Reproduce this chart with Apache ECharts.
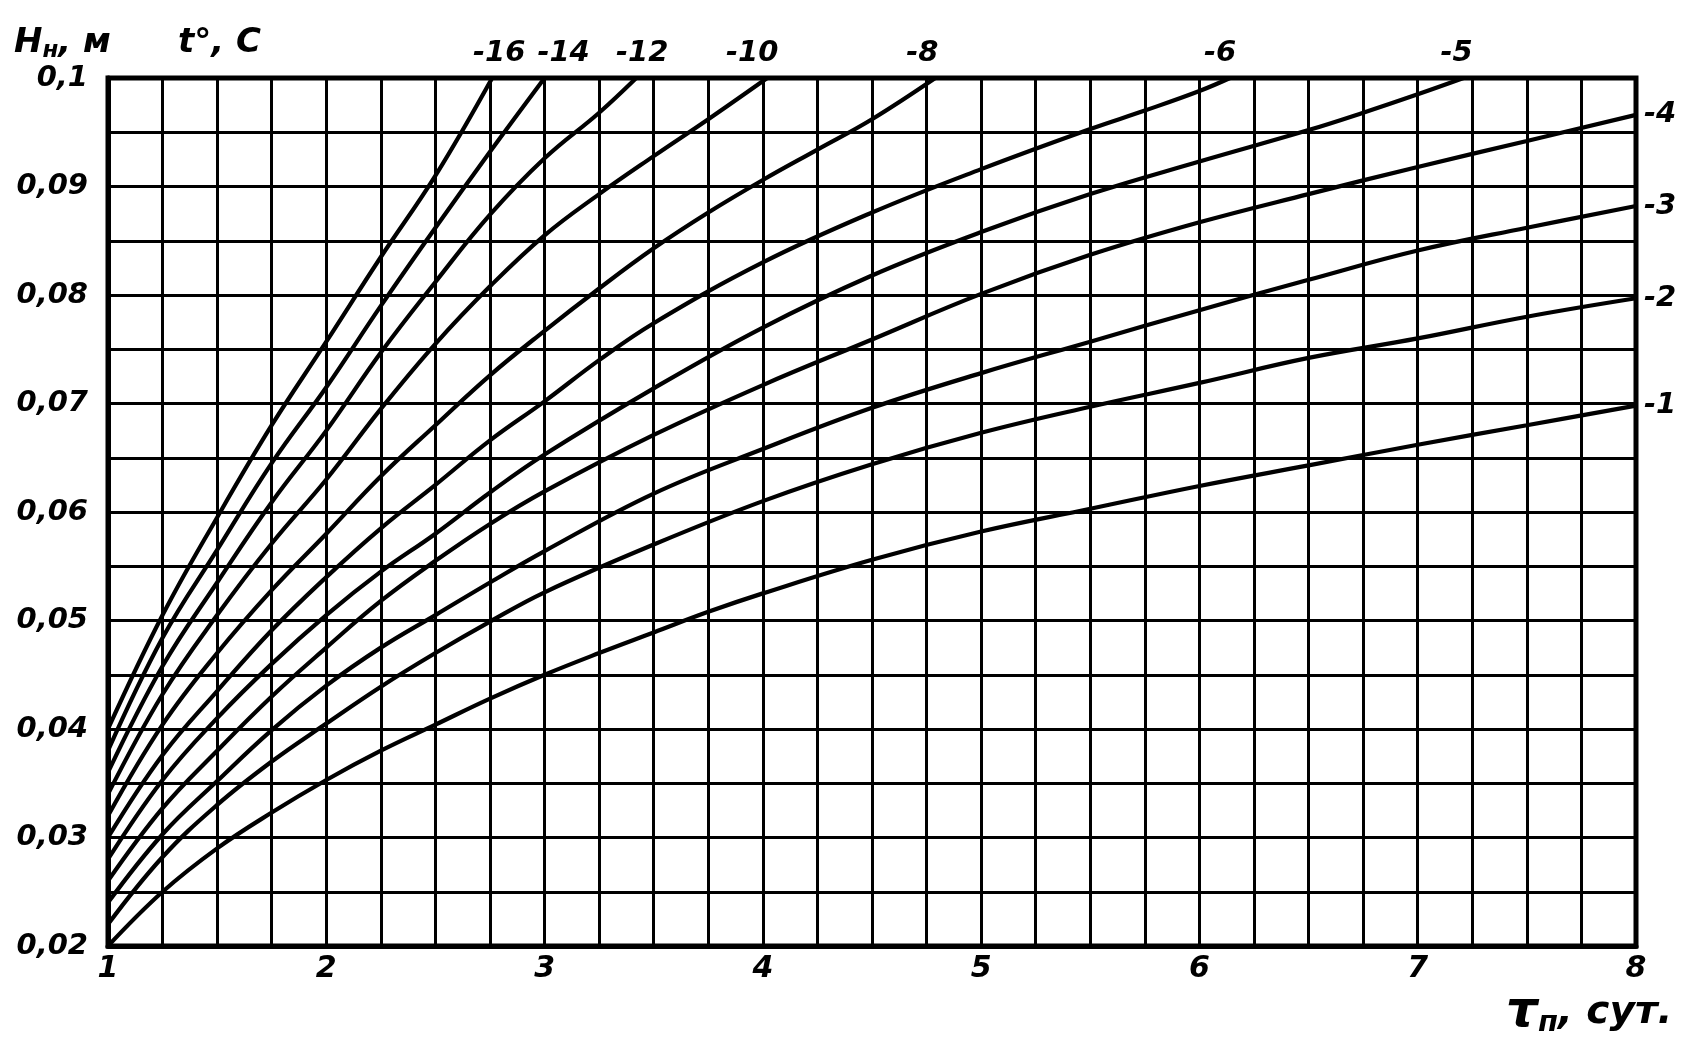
<!DOCTYPE html>
<html>
<head>
<meta charset="utf-8">
<script src="https://cdn.jsdelivr.net/npm/echarts@6/dist/echarts.min.js"></script>
<style>
html,body{margin:0;padding:0;background:#fff;}
#chart{width:1707px;height:1061px;}
</style>
</head>
<body>
<div id="chart"></div>
<script>
// Curve names (air temperature, °C)
const curveNames = ['-1', '-2', '-3', '-4', '-5', '-6', '-8', '-10', '-12', '-14', '-16'];

// Each curve: [tau (days), H (m)]
const curveM1 = [[1,0.020],[1.25,0.0250],[1.5,0.0290],[1.75,0.0323],[2,0.0353],[2.25,0.0380],[2.5,0.0404],[2.75,0.0428],[3,0.0450],[3.25,0.0470],[3.5,0.0489],[3.75,0.0508],[4,0.0525],[4.5,0.0556],[5,0.0582],[5.5,0.0603],[6,0.0624],[6.5,0.0643],[7,0.0662],[7.5,0.0680],[8,0.0698]];
const curveM2 = [[1,0.022],[1.25,0.0282],[1.5,0.033],[1.75,0.037],[2,0.0405],[2.25,0.0439],[2.5,0.047],[2.75,0.0499],[3,0.0526],[3.5,0.0570],[4,0.0610],[4.5,0.0644],[5,0.0673],[5.5,0.0697],[6,0.0719],[6.5,0.0742],[7,0.0760],[7.5,0.0780],[8,0.0797]];
const curveM3 = [[1,0.024],[1.25,0.0303],[1.5,0.0352],[1.75,0.0399],[2,0.044],[2.25,0.0475],[2.5,0.0505],[2.75,0.0535],[3,0.0564],[3.5,0.0617],[4,0.0658],[4.5,0.0696],[5,0.0728],[5.5,0.0757],[6,0.0786],[6.5,0.0814],[7,0.0841],[7.5,0.0862],[8,0.0882]];
const curveM4 = [[1,0.026],[1.25,0.0327],[1.5,0.038],[1.75,0.043],[2,0.0475],[2.25,0.0518],[2.5,0.0555],[2.75,0.0589],[3,0.0619],[3.5,0.0671],[4,0.0717],[4.5,0.0759],[5,0.0801],[5.5,0.0837],[6,0.0867],[6.5,0.0893],[7,0.0918],[7.5,0.0942],[8,0.0966]];
const curveM5 = [[1,0.028],[1.25,0.0353],[1.5,0.041],[1.75,0.046],[2,0.0505],[2.25,0.0545],[2.5,0.058],[2.75,0.0618],[3,0.0653],[3.5,0.0714],[4,0.0770],[4.5,0.0818],[5,0.0858],[5.5,0.0893],[6,0.0923],[6.5,0.0952],[6.75,0.0968],[7,0.0985],[7.21,0.1]];
const curveM6 = [[1,0.030],[1.25,0.0376],[1.5,0.0435],[1.75,0.0491],[2,0.054],[2.25,0.0585],[2.5,0.0625],[2.75,0.0666],[3,0.0702],[3.25,0.0740],[3.5,0.0774],[4,0.0830],[4.5,0.0876],[5,0.0916],[5.5,0.0953],[5.75,0.0970],[6,0.0988],[6.14,0.1]];
const curveM8 = [[1,0.032],[1.25,0.0404],[1.5,0.047],[1.75,0.0528],[2,0.058],[2.25,0.0633],[2.5,0.068],[2.75,0.0726],[3,0.0767],[3.25,0.0806],[3.5,0.0843],[3.75,0.0876],[4,0.0906],[4.25,0.0934],[4.5,0.0962],[4.79,0.1]];
const curveM10 = [[1,0.034],[1.25,0.0432],[1.5,0.0505],[1.75,0.0571],[2,0.063],[2.25,0.0695],[2.5,0.0755],[2.75,0.0808],[3,0.0855],[3.25,0.0893],[3.5,0.0928],[3.75,0.0962],[4.02,0.1]];
const curveM12 = [[1,0.036],[1.25,0.0458],[1.5,0.0535],[1.75,0.0609],[2,0.0675],[2.25,0.0747],[2.5,0.0812],[2.75,0.0874],[3,0.0926],[3.25,0.0968],[3.42,0.1]];
const curveM14 = [[1,0.038],[1.25,0.0484],[1.5,0.0565],[1.75,0.0645],[2,0.0715],[2.25,0.079],[2.5,0.0862],[2.75,0.0932],[3,0.1]];
const curveM16 = [[1,0.040],[1.25,0.0505],[1.5,0.0595],[1.75,0.068],[2,0.0757],[2.25,0.0835],[2.5,0.091],[2.76,0.1]];

const curves = [curveM1, curveM2, curveM3, curveM4, curveM5, curveM6, curveM8, curveM10, curveM12, curveM14, curveM16];

// Label nudges (px) for the curve-end labels, as printed
const labelNudge = [[0,0],[0,0],[0,0],[0,0],[-7,0],[-10,0],[-13,0],[-15,0],[6,0],[19,0],[7,0]];

// Tick labels
const xTickValues = [1, 2, 3, 4, 5, 6, 7, 8];
const xTickText = ['1', '2', '3', '4', '5', '6', '7', '8'];
const yTickValues = [0.02, 0.03, 0.04, 0.05, 0.06, 0.07, 0.08, 0.09, 0.1];
const yTickText = ['0,02', '0,03', '0,04', '0,05', '0,06', '0,07', '0,08', '0,09', '0,1'];

const FONT = '"DejaVu Sans", sans-serif';
const txt = { fontFamily: FONT, fontStyle: 'italic', fontWeight: 'bold', color: '#000' };

function findTick(v, vals, texts) {
  for (let i = 0; i < vals.length; i++) {
    if (Math.abs(v - vals[i]) < 1e-7) return texts[i];
  }
  return '';
}

const chart = echarts.init(document.getElementById('chart'), null, { renderer: 'canvas' });

const series = curves.map((pts, i) => {
  const last = pts[pts.length - 1];
  const endsOnTop = last[1] >= 0.1 - 1e-9;
  return {
    type: 'line',
    name: curveNames[i],
    data: pts.map((p, j) => j === pts.length - 1
      ? { value: p, label: { show: true, position: endsOnTop ? 'top' : 'right', distance: endsOnTop ? 10 : 8, offset: labelNudge[i], formatter: curveNames[i] } }
      : p),
    smooth: 0.4,
    showSymbol: true,
    showAllSymbol: true,
    symbol: 'circle',
    symbolSize: 0.01,
    itemStyle: { color: '#000' },
    lineStyle: { color: '#000', width: 4.2 },
    label: Object.assign({ show: false, fontSize: 29 }, txt),
    emphasis: { disabled: true },
    clip: false,
    silent: true,
    z: 5
  };
});

chart.setOption({
  animation: false,
  backgroundColor: '#fff',
  grid: {
    left: 108, right: 71, top: 78, bottom: 115,
    show: true, borderColor: '#000', borderWidth: 5, backgroundColor: 'transparent'
  },
  xAxis: {
    type: 'value',
    min: 1, max: 8, interval: 0.25,
    axisLine: { show: true, lineStyle: { color: '#000', width: 5 } },
    axisTick: { show: false },
    splitLine: { show: true, lineStyle: { color: '#000', width: 3 } },
    axisLabel: Object.assign({
      fontSize: 30, margin: 8,
      formatter: v => findTick(v, xTickValues, xTickText)
    }, txt)
  },
  yAxis: {
    type: 'value',
    min: 0.02, max: 0.1, interval: 0.005,
    axisLine: { show: true, lineStyle: { color: '#000', width: 5 } },
    axisTick: { show: false },
    splitLine: { show: true, lineStyle: { color: '#000', width: 3 } },
    axisLabel: Object.assign({
      fontSize: 29, margin: 20,
      formatter: v => findTick(v, yTickValues, yTickText)
    }, txt)
  },
  graphic: [
    {
      type: 'text', left: 14, top: 26,
      style: {
        text: '{a|H}{s|н}{a|, м}',
        rich: {
          a: Object.assign({ fontSize: 34 }, txt, { fill: '#000' }),
          s: Object.assign({ fontSize: 23, padding: [16, 0, 0, 0] }, txt, { fill: '#000' })
        },
        fill: '#000'
      }
    },
    {
      type: 'text', left: 178, top: 26,
      style: Object.assign({ text: 't°, C', fontSize: 34, fill: '#000' }, txt, { fill: '#000' })
    },
    {
      type: 'text', left: 1506, top: 988,
      style: {
        text: '{a|τ}{s|п}{b|, сут.}',
        rich: {
          a: Object.assign({ fontSize: 50 }, txt, { fill: '#000' }),
          s: Object.assign({ fontSize: 29, padding: [20, 0, 0, 0] }, txt, { fill: '#000' }),
          b: Object.assign({ fontSize: 39 }, txt, { fill: '#000' })
        },
        fill: '#000'
      }
    }
  ],
  series: series
});
</script>
</body>
</html>
